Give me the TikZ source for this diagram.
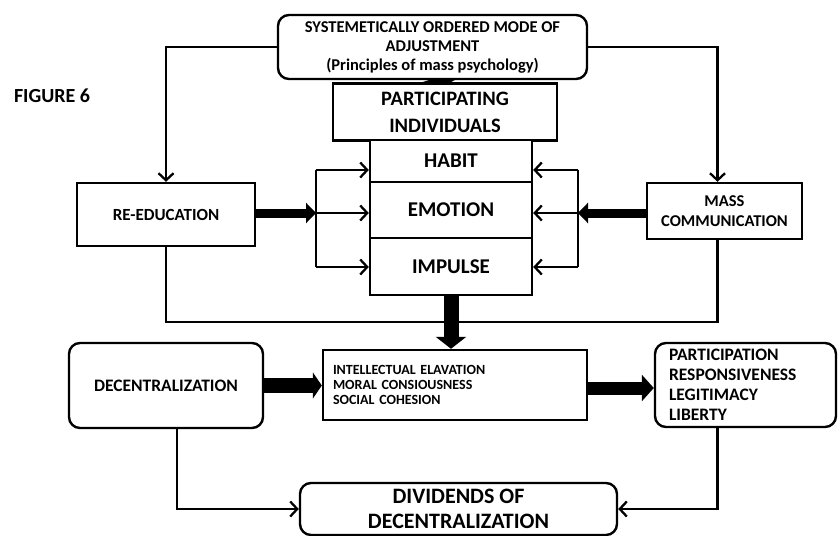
\documentclass[tikz,border=0pt]{standalone}
\usepackage{fontspec}
\setmainfont{Carlito}
\usetikzlibrary{positioning, arrows.meta, calc, backgrounds}

\tikzset{
  box/.style={draw, line width=2.4pt, fill=white, align=center, inner sep=2pt},
  rbox/.style={box, rounded corners=11pt},
  wire/.style={line width=2.3pt},
  link/.style={wire, -{Straight Barb[length=7pt,width=15pt,line width=2.3pt]}},
  fat/.style={line width=#1, -{Triangle[length=11pt,width=24pt]}},
}
\newcommand{\fsz}[2]{\bfseries\fontsize{#1}{#2}\selectfont}

\begin{document}
\begin{tikzpicture}[x=1pt, y=-1pt]
        \useasboundingbox (0,0) rectangle (839,536);

        % Label
        \node[font=\fsz{20}{22}] (fig) at (52,96) {FIGURE 6};

        % Top of the scheme
        \node[rbox, minimum width=309pt, minimum height=64pt, font=\fsz{16.5}{19}] (adjust) at (432.5,47)
            {SYSTEMETICALLY ORDERED MODE OF\\ADJUSTMENT\\(Principles of mass psychology)};
        \node[box, minimum width=224pt, minimum height=57pt, font=\fsz{20.5}{27}] (part) at (445,112)
            {PARTICIPATING\\INDIVIDUALS};

        % Habit, emotion, impulse
        \node[box, minimum width=162pt, minimum height=42pt, font=\fsz{21}{22}] (habit) at (451,161) {HABIT};
        \node[box, minimum width=162pt, minimum height=56pt, font=\fsz{21}{22}] (emotion) at (451,210) {EMOTION};
        \node[box, minimum width=162pt, minimum height=57pt, font=\fsz{21}{22}] (impulse) at (451,266.5) {IMPULSE};

        % Side boxes
        \node[box, minimum width=178pt, minimum height=63pt, font=\fsz{17}{19}] (reedu) at (166,214.5) {RE-EDUCATION};
        \node[box, minimum width=155pt, minimum height=56pt, font=\fsz{16.5}{20}] (masscomm) at (724.5,211)
            {MASS\\COMMUNICATION};

        % Lower row
        \node[box, minimum height=70pt, text width=244pt, inner xsep=10pt, align=left, font=\fsz{14}{15}] (mid) at (455,385)
            {INTELLECTUAL ELAVATION\\MORAL CONSIOUSNESS\\SOCIAL COHESION};
        \node[rbox, minimum width=194pt, minimum height=85pt, font=\fsz{17.5}{20}] (decent) at (166,385.5) {DECENTRALIZATION};
        \node[rbox, minimum height=84pt, text width=153pt, inner xsep=14pt, align=left, font=\fsz{17.5}{20}] (outcome) at (745.5,385)
            {PARTICIPATION\\RESPONSIVENESS\\LEGITIMACY\\LIBERTY};
        \node[rbox, minimum width=317pt, minimum height=52pt, font=\fsz{22}{24.5}] (divid) at (458.5,509)
            {DIVIDENDS OF\\DECENTRALIZATION};

        % Arrow hidden behind the top boxes
        \begin{scope}[on background layer]
            \draw[line width=10pt, -{Triangle[length=10pt,width=110pt]}] (adjust.center) -- ([yshift=-3pt]part.north);
        \end{scope}

        % Top links
        \coordinate (mctop) at ([xshift=-7pt]masscomm.north);
        \coordinate (mcfoot) at ([xshift=-7pt]masscomm.south);
        \draw[link] (adjust.west) -| (reedu.north);
        \draw[link] (adjust.east) -| (mctop);

        % Left bracket
        \coordinate (lb) at (316,213);
        \coordinate (lbtop) at (316,170);
        \coordinate (lbbot) at (316,267);
        \draw[wire] (lbtop) -- (lbbot);
        \draw[link] (lbtop) -- (lbtop -| habit.west);
        \draw[link] (lb) -- (lb -| emotion.west);
        \draw[link] (lbbot) -- (lbbot -| impulse.west);
        \draw[line width=9pt, -{Triangle[length=10pt,width=20pt]}] (reedu.east |- lb) -- (lb);

        % Right bracket
        \coordinate (rb) at (578,213);
        \coordinate (rbtop) at (578,170);
        \coordinate (rbbot) at (578,267);
        \draw[wire] (rbtop) -- (rbbot);
        \draw[link] (rbtop) -- (rbtop -| habit.east);
        \draw[link] (rb) -- (rb -| emotion.east);
        \draw[link] (rbbot) -- (rbbot -| impulse.east);
        \draw[line width=9pt, -{Triangle[length=10pt,width=20pt]}] (masscomm.west |- rb) -- (rb);

        % Feedback line
        \coordinate (fb) at (0,322);
        \draw[wire] (reedu.south) |- (fb -| mcfoot) -- (mcfoot);

        % Thick arrows
        \draw[fat=15pt, -{Triangle[length=12pt,width=30pt]}] (impulse.south) -- (impulse.south |- mid.north);
        \draw[fat=15pt, -{Triangle[length=9pt,width=26pt]}] (decent.east) -- (decent.east -| mid.west);
        \draw[fat=13pt, -{Triangle[length=12pt,width=26pt]}] (mid.east |- 0,388) -- (outcome.west |- 0,388);

        % Dividends
        \draw[link] ([xshift=11pt]decent.south) |- (divid.west);
        \draw[link] ([xshift=-28pt]outcome.south) |- (divid.east);
    \end{tikzpicture}
\end{document}
